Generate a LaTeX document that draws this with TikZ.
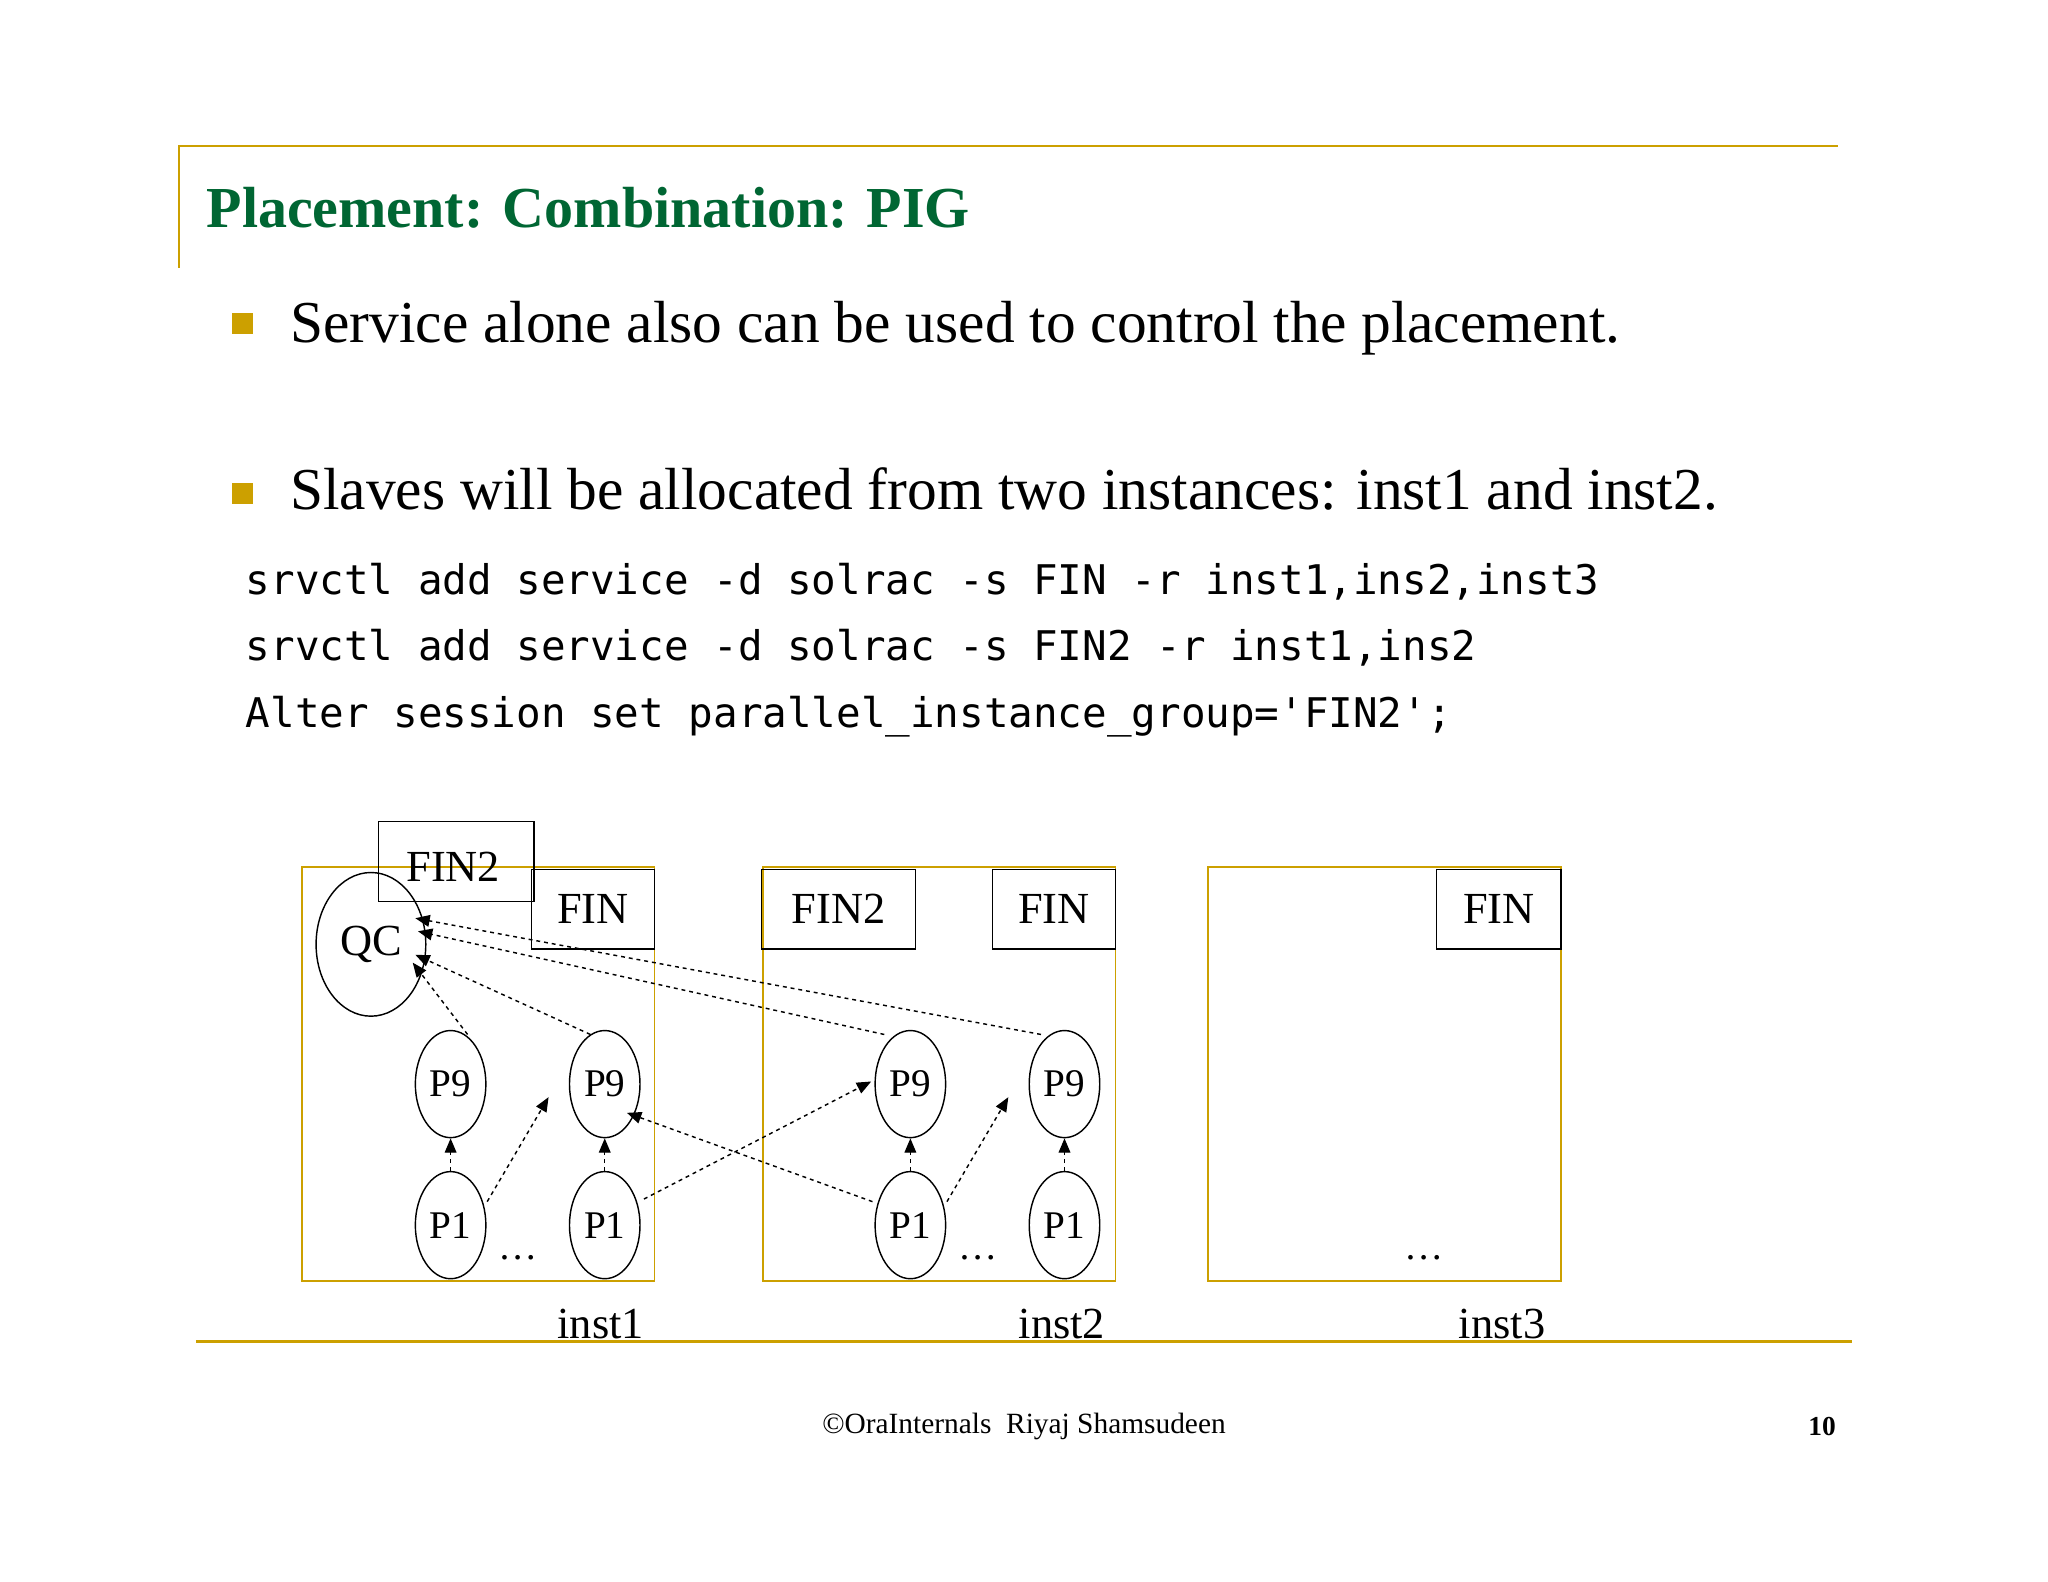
\documentclass[tikz,border=0pt]{standalone}
\usepackage{fontspec}
\setmainfont{Liberation Serif}
\setmonofont{DejaVu Sans Mono}
\usetikzlibrary{arrows.meta,shapes.geometric}
\definecolor{gold}{RGB}{204,160,0}
\definecolor{tgreen}{RGB}{0,102,51}
\begin{document}
\begin{tikzpicture}[x=1pt,y=-1pt,
  inst/.style={draw=gold,line width=1.3pt},
  lbl/.style={draw,line width=1.1pt,inner sep=0pt,font=\fontsize{34}{34}\selectfont},
  proc/.style={draw,ellipse,line width=1.1pt,minimum width=54pt,minimum height=82pt,inner sep=0pt,font=\fontsize{30}{30}\selectfont},
  da/.style={dashed,line width=1.1pt,-{Triangle[length=11pt,width=9pt]}},
  txt/.style={anchor=base west,inner sep=0pt}]
\useasboundingbox (0,0) rectangle (1568,1211);
\fill[white] (0,0) rectangle (1568,1211);
\draw[gold,line width=1.8pt] (137,205) -- (137,112) -- (1407,112);
\node[txt,text=tgreen,font=\fontsize{44.4}{44}\selectfont\bfseries] (title) at (158,174) {Placement: Combination: PIG};
\fill[gold] (178,240) rectangle (194,256);
\fill[gold] (178,370) rectangle (194,386);
\node[txt,font=\fontsize{45.5}{45}\selectfont] (b1) at (222,262) {Service alone also can be used to control the placement.};
\node[txt,font=\fontsize{45.5}{45}\selectfont] (b2) at (222,390) {Slaves will be allocated from two instances: inst1 and inst2.};
\node[txt,font=\fontsize{31.3}{31}\selectfont\ttfamily] (c1) at (188,455) {srvctl add service -d solrac -s FIN -r inst1,ins2,inst3};
\node[txt,font=\fontsize{31.3}{31}\selectfont\ttfamily] (c2) at (188,506) {srvctl add service -d solrac -s FIN2 -r inst1,ins2};
\node[txt,font=\fontsize{31.3}{31}\selectfont\ttfamily] (c3) at (188,557) {Alter session set parallel\_instance\_group='FIN2';};
\draw[inst] (231,664) rectangle (501,981);
\draw[inst] (584,664) rectangle (854,981);
\draw[inst] (925,664) rectangle (1195,981);
\node[proc,minimum width=84pt,minimum height=110pt,font=\fontsize{34}{34}\selectfont] (qc) at (284,723) {QC};
\node[lbl,minimum width=119pt,minimum height=61pt] (fin2a) at (349.5,659.5) {};
\node[font=\fontsize{34}{34}\selectfont,inner sep=0pt] at (347,664) {FIN2};
\node[lbl,minimum width=94pt,minimum height=61pt] (fina) at (454,696) {FIN};
\node[lbl,minimum width=118pt,minimum height=61pt] (fin2b) at (642,696) {FIN2};
\node[lbl,minimum width=94pt,minimum height=61pt] (finb) at (807,696) {FIN};
\node[lbl,minimum width=95pt,minimum height=61pt] (finc) at (1147.5,696) {FIN};
\node[proc] (a9) at (345,830) {P9};
\node[proc] (b9) at (463,830) {P9};
\node[proc] (c9) at (697,830) {P9};
\node[proc] (d9) at (815,830) {P9};
\node[proc] (a1) at (345,938) {P1};
\node[proc] (b1p) at (463,938) {P1};
\node[proc] (c1p) at (697,938) {P1};
\node[proc] (d1) at (815,938) {P1};
\foreach \x in {397,749,1090} \node[font=\fontsize{30}{30}\selectfont] at (\x,963) {\dots};
\node[font=\fontsize{34}{34}\selectfont] (i1) at (460,1014) {inst1};
\node[font=\fontsize{34}{34}\selectfont] (i2) at (813,1014) {inst2};
\node[font=\fontsize{34}{34}\selectfont] (i3) at (1150,1014) {inst3};
\draw[gold,line width=1.8pt] (150,1027) -- (1418,1027);
\node[font=\fontsize{22.5}{22}\selectfont] (ft) at (784,1092) {©OraInternals\ \ Riyaj Shamsudeen};
\node[font=\fontsize{21}{21}\selectfont\bfseries] (pg) at (1395,1092) {10};
\draw[da] (a1) -- (a9);
\draw[da] (b1p) -- (b9);
\draw[da] (c1p) -- (c9);
\draw[da] (d1) -- (d9);
\coordinate (t1) at (420,840);
\coordinate (t2) at (772,840);
\draw[da] (373,920) -- (t1);
\draw[da] (725,920) -- (t2);
\draw[da] (493,918) -- (667,828);
\draw[da] (668,920) -- (480,852);
\draw[da] (358,792) -- (316,737);
\draw[da] (452,792) -- (318,731);
\draw[da] (677,792) -- (320,713);
\draw[da] (797,792) -- (318,703);
\end{tikzpicture}
\end{document}
